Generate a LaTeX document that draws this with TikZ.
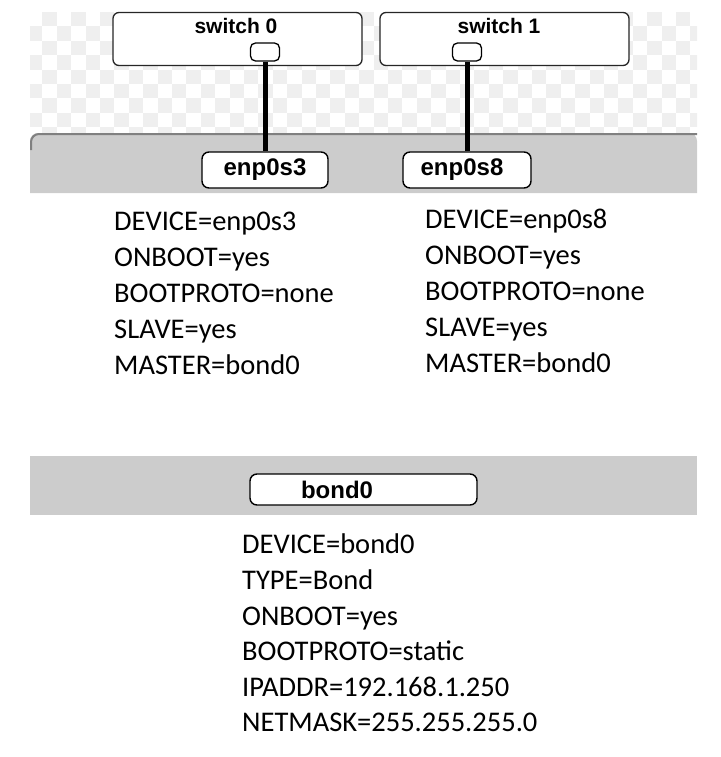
\documentclass[tikz,border=0pt]{standalone}
\usepackage{fontspec}
\setmainfont{Carlito}
\newfontfamily\labelfont{Liberation Sans}
\usepackage{tikz}
\usetikzlibrary{positioning}

\definecolor{checkgray}{HTML}{EFEFEF}
\definecolor{bandgray}{HTML}{CCCCCC}
\definecolor{edgegray}{HTML}{808080}

\begin{document}
\begin{tikzpicture}[
  x=1pt, y=-1pt,
  switchbox/.style={draw=black!85, line width=1.3pt, fill=white, rounded corners=6pt, minimum width=249pt, minimum height=53pt},
  portbox/.style={draw=black, line width=1.3pt, fill=white, rounded corners=5pt, minimum width=29pt, minimum height=18pt, inner sep=0pt},
  ifbox/.style={draw=black, line width=1.4pt, fill=white, rounded corners=7pt, minimum height=36pt, inner sep=0pt, font=\labelfont\bfseries\fontsize{24}{24}\selectfont},
  iflbl/.style={inner sep=0pt, font=\labelfont\bfseries\fontsize{24}{24}\selectfont},
  swlbl/.style={font=\labelfont\bfseries\fontsize{21}{21}\selectfont, inner sep=0pt},
  cable/.style={line width=5pt, black},
  conf/.style={align=left, inner sep=0pt, anchor=north west, font=\fontsize{28.5}{36}\selectfont}
]
  \useasboundingbox (0,0) rectangle (720,757);

  % --- FONDO A CUADROS ---
  \begin{scope}
    \clip (30,12) rectangle (697,133);
    \foreach \i in {0,...,46} {
      \foreach \j in {0,...,8} {
        \pgfmathparse{int(mod(\i+\j,2))}
        \ifnum\pgfmathresult=1
          \fill[checkgray] (28+14.4*\i,12+14.4*\j) rectangle ++(14.4,14.4);
        \fi
      }
    }
  \end{scope}

  % --- BANDAS GRISES ---
  \fill[bandgray, rounded corners=8pt] (30,193) -- (30,133) -- (697,133) [sharp corners] -- (697,193) -- cycle;
  \draw[edgegray, line width=2pt, rounded corners=8pt] (31,150) -- (31,134) -- (697,134);
  \fill[bandgray] (30,456) rectangle (697,515);

  % --- SWITCHES Y PUERTOS ---
  \node[switchbox] (sw0) at (237.5,39) {};
  \node[switchbox] (sw1) at (504.5,39) {};
  \node[swlbl] (sw0lbl) at (236,26) {switch 0};
  \node[swlbl] (sw1lbl) at (499,26) {switch 1};
  \node[portbox] (port0) at (265,52) {};
  \node[portbox] (port1) at (467,52) {};

  % --- INTERFACES ---
  \node[ifbox, minimum width=126pt] (eth0) at (265,170) {enp0s3};
  \node[ifbox, minimum width=128pt] (eth1) at (467,170) {};
  \node[iflbl] (eth1lbl) at (462,170) {enp0s8};
  \node[ifbox, minimum width=227pt, minimum height=31pt] (bond) at (363.5,489.5) {};
  \node[iflbl] (bondlbl) at (337,489.5) {bond0};

  % --- CABLES ---
  \draw[cable] (port0.south) -- (eth0.north);
  \draw[cable] (port1.south) -- (eth1.north);

  % --- CONFIGURACIONES ---
  \node[conf] (cfg0) at (114,212) {DEVICE=enp0s3\\ONBOOT=yes\\BOOTPROTO=none\\SLAVE=yes\\MASTER=bond0};
  \node[conf] (cfg1) at (425,209) {DEVICE=enp0s8\\ONBOOT=yes\\BOOTPROTO=none\\SLAVE=yes\\MASTER=bond0};
  \node[conf, font=\fontsize{28.5}{35.6}\selectfont] (cfgbond) at (242,534) {DEVICE=bond0\\TYPE=Bond\\ONBOOT=yes\\BOOTPROTO=static\\IPADDR=192.168.1.250\\NETMASK=255.255.255.0};

\end{tikzpicture}
\end{document}
